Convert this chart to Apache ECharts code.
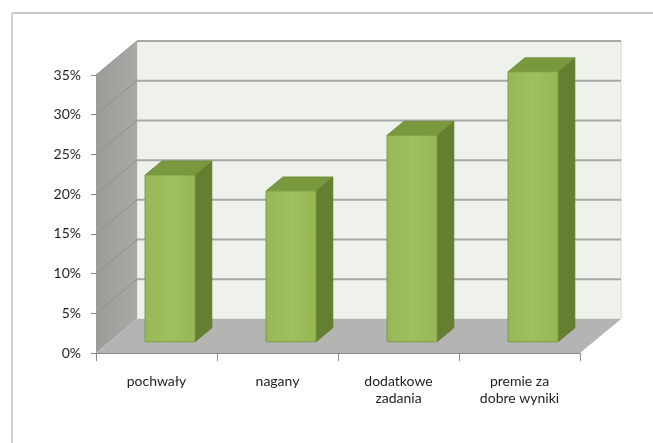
<!DOCTYPE html>
<html><head><meta charset="utf-8">
<script src="https://cdn.jsdelivr.net/npm/echarts@6/dist/echarts.min.js"></script>
<style>html,body{margin:0;padding:0;background:#fff}#c{width:653px;height:443px}</style>
</head><body><div id="c"></div>
<script>
const categories = ['pochwały', 'nagany', 'dodatkowe\nzadania', 'premie za\ndobre wyniki'];
const values = [21, 19, 26, 34];
const yTicks = [0, 5, 10, 15, 20, 25, 30, 35];

const DX = 41, DY = -34;      // depth of the 3D box
const F0 = 0.33, F1 = 0.74;   // bar depth span (fraction of box depth)
const BAR_RATIO = 0.413;      // bar width / category band

const chart = echarts.init(document.getElementById('c'));

function renderBox(params, api) {
  const cs = params.coordSys;
  const x0 = cs.x, x1 = cs.x + cs.width;
  const yTop = cs.y, yBot = cs.y + cs.height;
  const ch = [];
  ch.push({type: 'polygon', shape: {points: [[x0 + DX, yTop + DY], [x1 + DX, yTop + DY], [x1 + DX, yBot + DY], [x0 + DX, yBot + DY]]},
    style: {fill: '#eef2ea', stroke: '#d6dad2', lineWidth: 1}});
  ch.push({type: 'polygon', shape: {points: [[x0, yTop], [x0 + DX, yTop + DY], [x0 + DX, yBot + DY], [x0, yBot]]},
    style: {fill: new echarts.graphic.LinearGradient(0, 0, 1, 0, [{offset: 0, color: '#9a9c98'}, {offset: 1, color: '#a8aaa5'}])}});
  ch.push({type: 'polygon', shape: {points: [[x0, yBot], [x0 + DX, yBot + DY], [x1 + DX, yBot + DY], [x1, yBot]]},
    style: {fill: '#b4b4b2'}});
  yTicks.forEach(v => {
    if (v <= 0) return;
    const y = api.coord([0, v])[1];
    ch.push({type: 'line', shape: {x1: x0 + DX, y1: y + DY, x2: x1 + DX, y2: y + DY}, style: {stroke: '#a8a9a7', lineWidth: 2}});
    ch.push({type: 'line', shape: {x1: x0, y1: y, x2: x0 + DX, y2: y + DY}, style: {stroke: '#8e908c', lineWidth: 1}});
  });
  return {type: 'group', children: ch};
}

function renderBar(params, api) {
  const i = api.value(0), v = api.value(1);
  const c = api.coord([i, v]);
  const c0 = api.coord([i, 0]);
  const bw = api.size([1, 0])[0] * BAR_RATIO;
  const xl = c[0] - bw / 2 + F0 * DX, xr = xl + bw;
  const yt = c[1] + F0 * DY, yb = c0[1] + F0 * DY;
  const ddx = (F1 - F0) * DX, ddy = (F1 - F0) * DY;
  return {type: 'group', children: [
    {type: 'polygon', shape: {points: [[xr, yt], [xr + ddx, yt + ddy], [xr + ddx, yb + ddy], [xr, yb]]},
      style: {fill: '#657f31', stroke: '#5a722b', lineWidth: 0.8}},
    {type: 'polygon', shape: {points: [[xl, yt], [xl + ddx, yt + ddy], [xr + ddx, yt + ddy], [xr, yt]]},
      style: {fill: '#7a993e', stroke: '#6d8a36', lineWidth: 0.8}},
    {type: 'rect', shape: {x: xl, y: yt, width: bw, height: yb - yt},
      style: {fill: new echarts.graphic.LinearGradient(0, 0, 1, 0, [{offset: 0, color: '#98b856'}, {offset: 0.5, color: '#a0bf5e'}, {offset: 1, color: '#97b755'}]), stroke: '#7c9b41', lineWidth: 1}}
  ]};
}

chart.setOption({
  animation: false,
  backgroundColor: '#ffffff',
  textStyle: {fontFamily: 'Lato'},
  graphic: [
    {type: 'line', shape: {x1: 12, y1: 13, x2: 653, y2: 13}, style: {stroke: '#c8c8c8', lineWidth: 2}, z: 100},
    {type: 'line', shape: {x1: 12, y1: 13, x2: 12, y2: 443}, style: {stroke: '#d0d0d0', lineWidth: 2}, z: 100}
  ],
  grid: {left: 96, right: 73, top: 75, bottom: 90, containLabel: false},
  xAxis: {
    type: 'category', data: categories, boundaryGap: true,
    axisLine: {show: true, lineStyle: {color: '#8a8a8a', width: 1}},
    axisTick: {show: true, alignWithLabel: false, length: 8, lineStyle: {color: '#8a8a8a'}},
    axisLabel: {fontSize: 14, color: '#1e1e1e', margin: 20, lineHeight: 17, fontFamily: 'Lato', interval: 0},
    splitLine: {show: false}
  },
  yAxis: {
    type: 'value', min: 0, max: 35, interval: 5,
    axisLine: {show: true, lineStyle: {color: '#8a8a8a', width: 1}},
    axisTick: {show: true, length: 5, lineStyle: {color: '#8a8a8a'}},
    axisLabel: {formatter: '{value}%', fontSize: 14, color: '#1e1e1e', margin: 15, fontFamily: 'Lato'},
    splitLine: {show: false}
  },
  series: [
    {type: 'custom', renderItem: renderBox, data: [[0, 0]], clip: false, z: 1, silent: true},
    {type: 'custom', renderItem: renderBar, data: values.map((v, i) => [i, v]), clip: false, z: 3,
      encode: {x: 0, y: 1}}
  ]
});
</script>
</body></html>
